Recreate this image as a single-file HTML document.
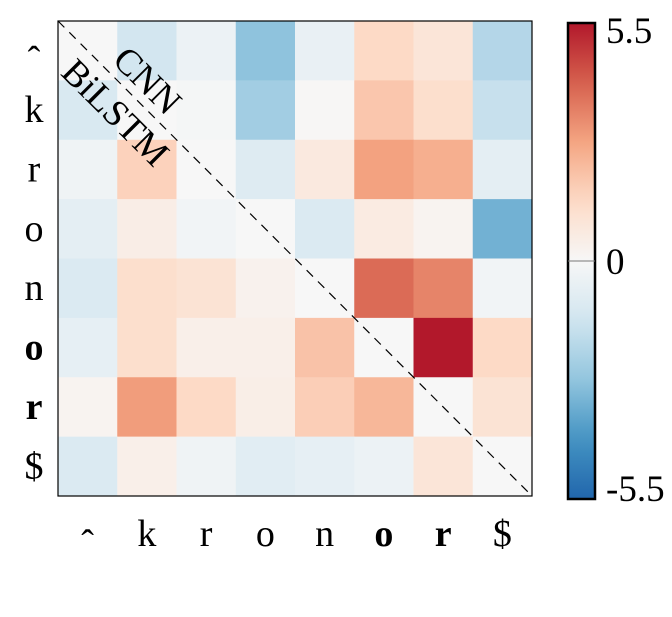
<!DOCTYPE html>
<html><head><meta charset="utf-8"><style>
body{margin:0;background:#fff;width:672px;height:612px;overflow:hidden}
svg text{font-family:"Liberation Serif",serif;fill:#000}
</style></head><body>
<svg id="chart" width="672" height="612" viewBox="0 0 672 612">
<defs><linearGradient id="cb" x1="0" y1="1" x2="0" y2="0"></linearGradient></defs>
<g id="cells"></g>
<g id="labels"></g>
</svg>
<script>
const rowLabels=["ˆ","k","r","o","n","o","r","$"];
const colLabels=["ˆ","k","r","o","n","o","r","$"];
const boldIdx=[5,6];
const values=[
[0,-1.3,-0.4,-2.8,-0.5,1.4,0.9,-2.0],
[-1.1,0,-0.1,-2.4,0.05,1.9,1.2,-1.6],
[-0.3,1.6,0,-0.9,0.7,2.8,2.5,-0.7],
[-0.7,0.5,-0.2,0,-1.0,0.6,0.2,-3.3],
[-1.0,1.2,1.0,0.3,0,3.9,3.4,-0.2],
[-0.6,1.2,0.4,0.4,2.0,0,5.5,1.4],
[0.2,2.9,1.4,0.45,1.7,2.3,0,1.0],
[-1.0,0.4,-0.3,-0.8,-0.6,-0.4,0.9,0]
];
const vmin=-5.5, vmax=5.5;
const cbTicks=[5.5,0,-5.5];
const NS="http://www.w3.org/2000/svg";
const L=58,T=21,W=474,H=475,n=8;
const cw=W/n, ch=H/n;
const stops=["#053061","#2166ac","#4393c3","#92c5de","#d1e5f0","#f7f7f7","#fddbc7","#f4a582","#d6604d","#b2182b","#67001f"];
function hex(h){return [1,3,5].map(i=>parseInt(h.substr(i,2),16));}
function cmapT(t){t=Math.max(0,Math.min(1,t));const p=t*10,i=Math.min(9,Math.floor(p)),f=p-i;const a=hex(stops[i]),b=hex(stops[i+1]);return "rgb("+a.map((v,k)=>Math.round(v+(b[k]-v)*f)).join(",")+")";}
function color(v){return cmapT(0.1+0.8*(v-vmin)/(vmax-vmin));}
function xs(c){return L+c*cw;} function ys(r){return T+r*ch;}
function el(tag,attrs,parent){const e=document.createElementNS(NS,tag);for(const k in attrs)e.setAttribute(k,attrs[k]);parent.appendChild(e);return e;}
const svg=document.getElementById('chart'),cells=document.getElementById('cells'),labels=document.getElementById('labels');
values.forEach((row,r)=>row.forEach((v,c)=>{
 const e=el('rect',{x:xs(c),y:ys(r),width:cw+0.5,height:ch+0.5,fill:color(v)},cells);
 
 
}));
let e=el('rect',{x:L,y:T,width:W,height:H,fill:'none',stroke:'#000','stroke-width':1.2},svg);


e=el('line',{x1:L,y1:T,x2:L+W,y2:T+H,stroke:'#000','stroke-width':1.2,'stroke-dasharray':'9,7'},svg);


e=el('text',{x:148,y:93,'font-size':37,'text-anchor':'middle',transform:'rotate(45 148 80)'},svg);e.textContent='CNN';


e=el('text',{x:116,y:125,'font-size':37,'text-anchor':'middle',transform:'rotate(45 116 112)'},svg);e.textContent='BiLSTM';


rowLabels.forEach((s,i)=>{
 const t=el('text',{x:34,y:ys(i)+ch/2+(i===0?22:12),'font-size':38,'text-anchor':'middle','font-weight':boldIdx.includes(i)?'bold':'normal'},labels);
 t.textContent=s;
 
 
});
colLabels.forEach((s,i)=>{
 const t=el('text',{x:xs(i)+cw/2,y:(i===0?556:546),'font-size':38,'text-anchor':'middle','font-weight':boldIdx.includes(i)?'bold':'normal'},labels);
 t.textContent=s;
 
 
});
const g=document.getElementById('cb');
for(let i=0;i<=20;i++){el('stop',{offset:i/20,'stop-color':cmapT(0.1+0.8*i/20)},g);}
const CX=568,CY=23,CW=27,CH=476;
e=el('rect',{x:CX,y:CY,width:CW,height:CH,fill:'url(#cb)',stroke:'#000','stroke-width':2.5},svg);


function cby(v){return CY+CH*(vmax-v)/(vmax-vmin);}
el('line',{x1:CX,x2:CX+CW,y1:cby(0),y2:cby(0),stroke:'#777','stroke-width':1},svg);
cbTicks.forEach((v,i)=>{
 const yy=[cby(v)+20,cby(v)+13,cby(v)+2][i];
 const t=el('text',{x:606,y:yy,'font-size':37},svg);
 t.textContent=String(v);
 
 
});
</script>
</body></html>
